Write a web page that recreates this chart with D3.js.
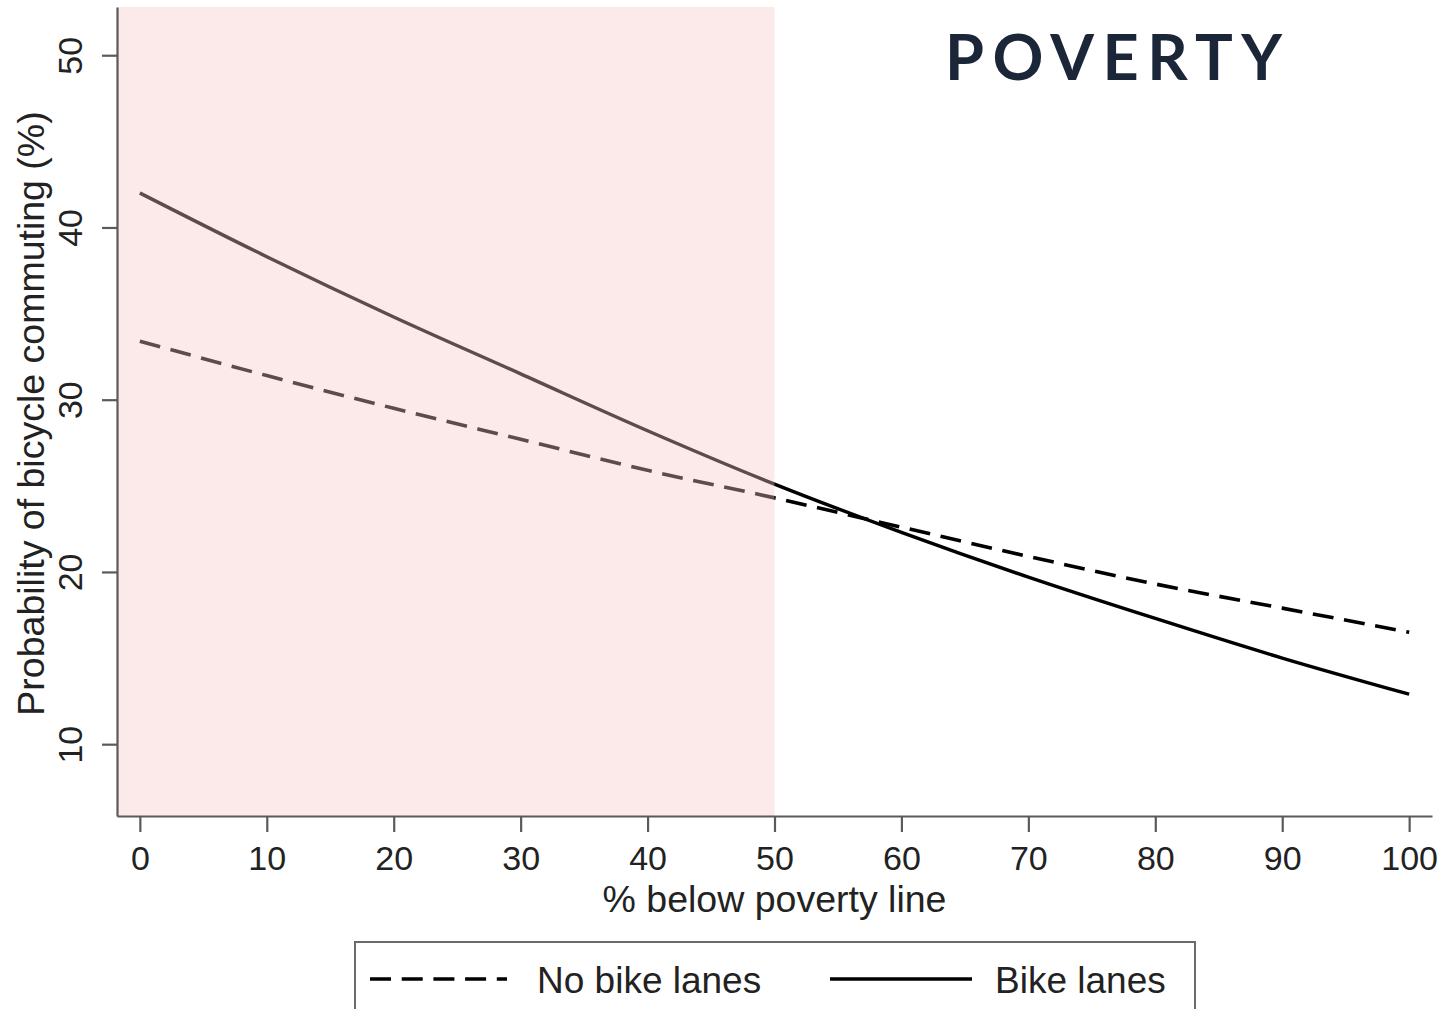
<!DOCTYPE html>
<html>
<head>
<meta charset="utf-8">
<script src="https://cdn.jsdelivr.net/npm/d3@7"></script>
<style>
  html, body { margin: 0; padding: 0; background: #ffffff; }
  svg { display: block; }
</style>
</head>
<body>
<svg id="chart" width="1449" height="1009"></svg>
<script>
// ---- data ----
const povertyPct   = [0, 10, 20, 30, 40, 50, 60, 70, 80, 90, 100];
const bikeLanes    = [42.0, 38.3, 34.8, 31.5, 28.2, 25.1, 22.3, 19.7, 17.3, 15.0, 12.9];
const noBikeLanes  = [33.4, 31.4, 29.5, 27.7, 25.9, 24.3, 22.6, 20.9, 19.3, 17.9, 16.5];
const xTicks       = [0, 10, 20, 30, 40, 50, 60, 70, 80, 90, 100];
const yTicks       = [10, 20, 30, 40, 50];
const shadeRange   = [null, 50];          // shaded up to 50 % below poverty line
const legendLabels = ["No bike lanes", "Bike lanes"];
const titleText    = "POVERTY";
const xTitle       = "% below poverty line";
const yTitle       = "Probability of bicycle commuting (%)";

const svg = d3.select("#chart");
const FONT = "'Liberation Sans', Arial, Helvetica, sans-serif";

const x = d3.scaleLinear().domain([-1.8, 101.8]).range([117, 1432]);
const y = d3.scaleLinear().domain([5.83, 52.8]).range([816, 7]);

const line = d3.line()
  .x(d => x(d[0]))
  .y(d => y(d[1]))
  .curve(d3.curveMonotoneX);

// lines
svg.append("path")
  .datum(povertyPct.map((p, i) => [p, noBikeLanes[i]]))
  .attr("d", line)
  .attr("fill", "none")
  .attr("stroke", "#000")
  .attr("stroke-width", 3.6)
  .attr("stroke-dasharray", "21,10.7");

svg.append("path")
  .datum(povertyPct.map((p, i) => [p, bikeLanes[i]]))
  .attr("d", line)
  .attr("fill", "none")
  .attr("stroke", "#000")
  .attr("stroke-width", 3.4);

// translucent pink shading (over the lines, as in the reference)
svg.append("rect")
  .attr("x", x.range()[0])
  .attr("y", y.range()[1])
  .attr("width", x(shadeRange[1]) - x.range()[0])
  .attr("height", y.range()[0] - y.range()[1])
  .attr("fill", "rgb(247,198,198)")
  .attr("fill-opacity", 0.38);

// axes
const axisColor = "#5a5a5a";
const gx = svg.append("g")
  .attr("transform", `translate(0,${y.range()[0]})`)
  .call(d3.axisBottom(x).tickValues(xTicks).tickSize(16).tickSizeOuter(0));
gx.selectAll("text")
  .attr("y", 54).attr("dy", 0)
  .attr("font-family", FONT).attr("font-size", 34).attr("fill", "#222");

const gy = svg.append("g")
  .attr("transform", `translate(${x.range()[0]},0)`)
  .call(d3.axisLeft(y).tickValues(yTicks).tickSize(15).tickSizeOuter(0));
gy.selectAll("text")
  .attr("transform", "rotate(-90)")
  .attr("x", 0).attr("y", -35).attr("dy", 0)
  .attr("text-anchor", "middle")
  .attr("font-family", FONT).attr("font-size", 34).attr("fill", "#222");

[gx, gy].forEach(g => {
  g.select(".domain").attr("stroke", axisColor).attr("stroke-width", 2.2);
  g.selectAll(".tick line").attr("stroke", axisColor).attr("stroke-width", 2.2);
});

// axis titles
svg.append("text")
  .attr("x", x(50))
  .attr("y", 912)
  .attr("text-anchor", "middle")
  .attr("font-family", FONT).attr("font-size", 37.5).attr("fill", "#222")
  .text(xTitle);

svg.append("text")
  .attr("transform", `translate(44,${(y.range()[0] + y.range()[1]) / 2 + 2}) rotate(-90)`)
  .attr("text-anchor", "middle")
  .attr("font-family", FONT).attr("font-size", 37.5).attr("fill", "#222")
  .text(yTitle);

// title
svg.append("text")
  .attr("x", 945)
  .attr("y", 80)
  .attr("font-family", "Lato, 'Open Sans', sans-serif")
  .attr("font-weight", 700)
  .attr("font-size", 63)
  .attr("fill", "#1b2639")
  .attr("textLength", 337)
  .attr("lengthAdjust", "spacing")
  .text(titleText);

// legend
const leg = svg.append("g");
leg.append("rect")
  .attr("x", 355).attr("y", 942)
  .attr("width", 840).attr("height", 90)
  .attr("fill", "#fff")
  .attr("stroke", "#6a6a6a").attr("stroke-width", 2);

const legY = 979;
leg.append("line")
  .attr("x1", 370).attr("x2", 507).attr("y1", legY).attr("y2", legY)
  .attr("stroke", "#000").attr("stroke-width", 3.6)
  .attr("stroke-dasharray", "21,10.7");
leg.append("text")
  .attr("x", 537).attr("y", 993)
  .attr("font-family", FONT).attr("font-size", 37).attr("fill", "#222")
  .text(legendLabels[0]);

leg.append("line")
  .attr("x1", 830).attr("x2", 972).attr("y1", legY).attr("y2", legY)
  .attr("stroke", "#000").attr("stroke-width", 3.4);
leg.append("text")
  .attr("x", 995).attr("y", 993)
  .attr("font-family", FONT).attr("font-size", 37).attr("fill", "#222")
  .text(legendLabels[1]);
</script>
</body>
</html>
